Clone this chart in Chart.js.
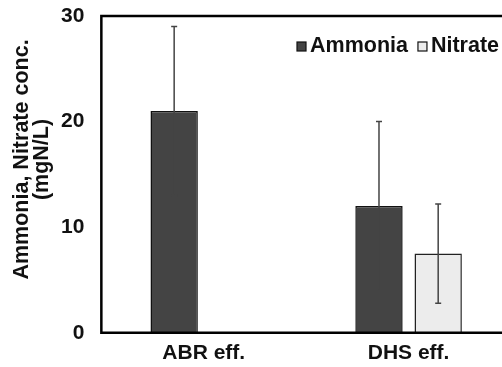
<!DOCTYPE html>
<html lang="en">
<head>
  <meta charset="UTF-8">
  <title>Ammonia and Nitrate</title>
  <style>
    /* page is a bit narrower than the canvas, right edge gets cropped */
    html, body { margin: 0; padding: 0; background: #fff; overflow: hidden; }
    canvas { display: block; }
  </style>
  <script src="https://cdn.jsdelivr.net/npm/chart.js"></script>
</head>
<body>
  <canvas id="chart" width="511" height="367"></canvas>

  <script>
    // Values
    const categories = ['ABR eff.', 'DHS eff.'];
    const ammonia = [21, 12];
    const ammoniaErr = [8, 8];
    const nitrate = [null, 7.5];
    const nitrateErr = [null, 4.7];
    const yTicks = [0, 10, 20, 30];

    const FONT = "'Liberation Sans', Arial, sans-serif";

    // Error bars, drawn through the scales
    const errorBars = {
      id: 'errorBars',
      afterDatasetsDraw(chart) {
        const ctx = chart.ctx;
        const y = chart.scales.y;
        ctx.save();
        ctx.strokeStyle = '#444';
        ctx.lineWidth = 1.5;
        chart.data.datasets.forEach((ds, i) => {
          const meta = chart.getDatasetMeta(i);
          meta.data.forEach((bar, j) => {
            const v = ds.data[j];
            const e = ds.errors[j];
            if (v == null || e == null) return;
            const top = y.getPixelForValue(v + e);
            const bot = y.getPixelForValue(v - e);
            ctx.beginPath();
            ctx.moveTo(bar.x, top); ctx.lineTo(bar.x, bot);
            ctx.moveTo(bar.x - 3, top); ctx.lineTo(bar.x + 3, top);
            ctx.moveTo(bar.x - 3, bot); ctx.lineTo(bar.x + 3, bot);
            ctx.stroke();
          });
        });
        ctx.restore();
      }
    };

    // Frame around plot area + legend inside it
    const frameAndLegend = {
      id: 'frameAndLegend',
      afterDraw(chart) {
        const ctx = chart.ctx;
        const a = chart.chartArea;
        ctx.save();
        ctx.strokeStyle = '#000';
        ctx.lineWidth = 2.5;
        ctx.beginPath();
        ctx.moveTo(a.right, a.top);
        ctx.lineTo(a.left, a.top);
        ctx.lineTo(a.left, a.bottom);
        ctx.lineTo(a.right, a.bottom);
        ctx.stroke();

        // legend
        ctx.font = 'bold 21.5px ' + FONT;
        ctx.textBaseline = 'alphabetic';
        ctx.textAlign = 'left';
        let x = 297;
        const base = 52;
        chart.data.datasets.forEach(ds => {
          ctx.fillStyle = ds.backgroundColor;
          ctx.fillRect(x, base - 10, 9, 9);
          ctx.lineWidth = 1.2;
          ctx.strokeStyle = '#111';
          ctx.strokeRect(x, base - 10, 9, 9);
          ctx.fillStyle = '#111';
          ctx.fillText(ds.label, x + 13, base);
          x += 13 + ctx.measureText(ds.label).width + 10;
        });
        ctx.restore();
      }
    };

    new Chart(document.getElementById('chart'), {
      type: 'bar',
      data: {
        labels: categories,
        datasets: [{
          label: 'Ammonia',
          data: ammonia,
          errors: ammoniaErr,
          backgroundColor: '#444444',
          borderColor: '#111',
          borderWidth: 1.5
        }, {
          label: 'Nitrate',
          data: nitrate,
          errors: nitrateErr,
          backgroundColor: '#ececec',
          borderColor: '#222',
          borderWidth: 1.5
        }]
      },
      options: {
        responsive: false,
        animation: false,
        layout: { padding: { left: 12, top: 16, right: 0, bottom: -7 } },
        datasets: { bar: { categoryPercentage: 0.578, barPercentage: 0.8 } },
        plugins: {
          legend: { display: false },
          tooltip: { enabled: false }
        },
        scales: {
          x: {
            grid: { display: false, drawTicks: false },
            border: { display: false },
            ticks: {
              color: '#111',
              padding: 8,
              font: { family: FONT, size: 21, weight: 'bold' }
            }
          },
          y: {
            min: 0,
            max: 30,
            afterBuildTicks: axis => { axis.ticks = yTicks.map(v => ({ value: v })); },
            // no extra room above/below the plot for the end labels
            afterFit: axis => { axis.paddingTop = 0; axis.paddingBottom = 0; },
            grid: { display: false, drawTicks: false },
            border: { display: false },
            ticks: {
              color: '#111',
              padding: 17,
              font: { family: FONT, size: 21, weight: 'bold' }
            },
            title: {
              display: true,
              // leading spaces lift the rotated title a little, as in the original
              text: ['     Ammonia, Nitrate conc.', '     (mgN/L)'],
              color: '#111',
              padding: { top: 0, bottom: -8 },
              font: { family: FONT, size: 21.5, weight: 'bold', lineHeight: 0.93 }
            }
          }
        }
      },
      plugins: [errorBars, frameAndLegend]
    });
  </script>
</body>
</html>
